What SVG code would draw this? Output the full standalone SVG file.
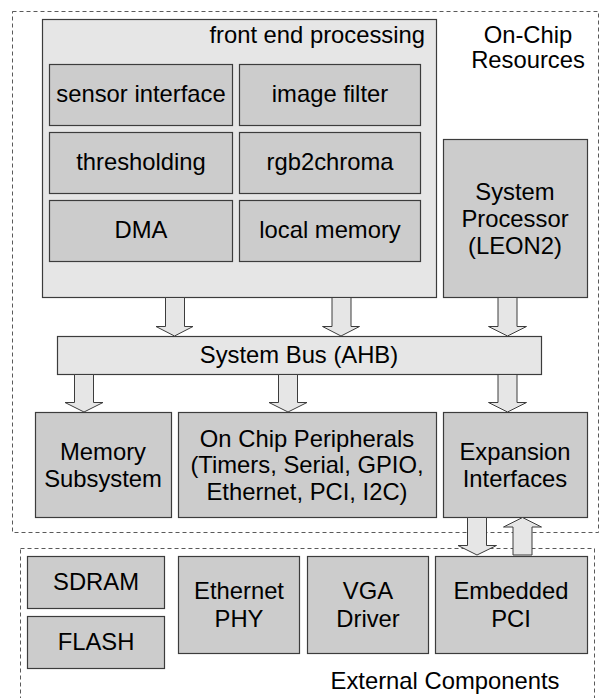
<svg xmlns="http://www.w3.org/2000/svg" width="600" height="698" viewBox="0 0 600 698">
<style>
text{font-family:"Liberation Sans",Arial,sans-serif;font-size:23.8px;fill:#000;text-anchor:middle}
.dash{fill:none;stroke:#5a5a5a;stroke-width:1;stroke-dasharray:4 3}
.box{fill:#cccccc;stroke:#3c3c3c;stroke-width:1.2}
.lt{fill:#e6e6e6;stroke:#3c3c3c;stroke-width:1.2}
.arr{fill:#e6e6e6;stroke:#3c3c3c;stroke-width:1}
</style>
<rect width="600" height="698" fill="#fff"/>
<g id="onchip">
<rect class="dash" x="12.5" y="11.5" width="586" height="521"/>
<text x="528" y="43">On-Chip</text>
<text x="528" y="68">Resources</text>
</g>
<g id="external">
<rect class="dash" x="20.5" y="548.5" width="574" height="160"/>
<text x="445" y="689">External Components</text>
</g>
<g id="frontend">
<rect class="lt" x="42.5" y="19.5" width="394" height="278"/>
<text x="425" y="43" style="text-anchor:end">front end processing</text>
</g>
<g id="sensor"><rect class="box" x="49.5" y="64.5" width="183" height="61"/><text x="141" y="102">sensor interface</text></g>
<g id="imagefilter"><rect class="box" x="239.5" y="64.5" width="181" height="61"/><text x="330" y="102">image filter</text></g>
<g id="thresholding"><rect class="box" x="49.5" y="132.5" width="183" height="61"/><text x="141" y="170">thresholding</text></g>
<g id="rgb2chroma"><rect class="box" x="239.5" y="132.5" width="181" height="61"/><text x="330" y="170">rgb2chroma</text></g>
<g id="dma"><rect class="box" x="49.5" y="200.5" width="183" height="61"/><text x="141" y="238">DMA</text></g>
<g id="localmem"><rect class="box" x="239.5" y="200.5" width="181" height="61"/><text x="330" y="238">local memory</text></g>
<g id="processor"><rect class="box" x="443.5" y="139.5" width="144" height="158"/><text x="515" y="200">System</text><text x="515" y="227">Processor</text><text x="515" y="254">(LEON2)</text></g>
<g id="bus"><rect class="lt" x="57.5" y="336.5" width="484" height="38"/><text x="299" y="363">System Bus (AHB)</text></g>
<g id="memsub"><rect class="box" x="35.5" y="412.5" width="136" height="105"/><text x="103" y="460">Memory</text><text x="103" y="487">Subsystem</text></g>
<g id="periph"><rect class="box" x="178.5" y="412.5" width="258" height="105"/><text x="307" y="447">On Chip Peripherals</text><text x="307" y="473">(Timers, Serial, GPIO,</text><text x="307" y="500">Ethernet, PCI, I2C)</text></g>
<g id="expansion"><rect class="box" x="443.5" y="412.5" width="144" height="105"/><text x="515" y="460">Expansion</text><text x="515" y="487">Interfaces</text></g>
<g id="sdram"><rect class="box" x="27.5" y="556.5" width="137" height="52"/><text x="96" y="590">SDRAM</text></g>
<g id="flash"><rect class="box" x="27.5" y="616.5" width="137" height="52"/><text x="96" y="650">FLASH</text></g>
<g id="ethphy"><rect class="box" x="178.5" y="556.5" width="121" height="97"/><text x="239" y="599">Ethernet</text><text x="239" y="627">PHY</text></g>
<g id="vga"><rect class="box" x="307.5" y="556.5" width="121" height="97"/><text x="368" y="599">VGA</text><text x="368" y="627">Driver</text></g>
<g id="pci"><rect class="box" x="435.5" y="556.5" width="152" height="97"/><text x="511" y="599">Embedded</text><text x="511" y="627">PCI</text></g>
<g id="connectors">
<path class="arr" d="M165.5 297.5V326.5H156L174.5 336L193 326.5H184.5V297.5Z"/>
<path class="arr" d="M332 297.5V326.5H322.5L341 336L359.5 326.5H351V297.5Z"/>
<path class="arr" d="M498 297.5V326.5H488.5L507.5 336L526.5 326.5H517V297.5Z"/>
<path class="arr" d="M74.5 374.5V402.5H65L84 412L103 402.5H93.5V374.5Z"/>
<path class="arr" d="M278.5 374.5V402.5H269L288 412L307 402.5H297.5V374.5Z"/>
<path class="arr" d="M498 374.5V402.5H488.5L507.5 412L526.5 402.5H517V374.5Z"/>
<path class="arr" d="M467.5 517.5V545.5H458L477 555L496.5 545.5H486.5V517.5Z"/>
<path class="arr" d="M513 555V527H503.5L522.5 517.5L541.5 527H532V555Z"/>
</g>
</svg>
